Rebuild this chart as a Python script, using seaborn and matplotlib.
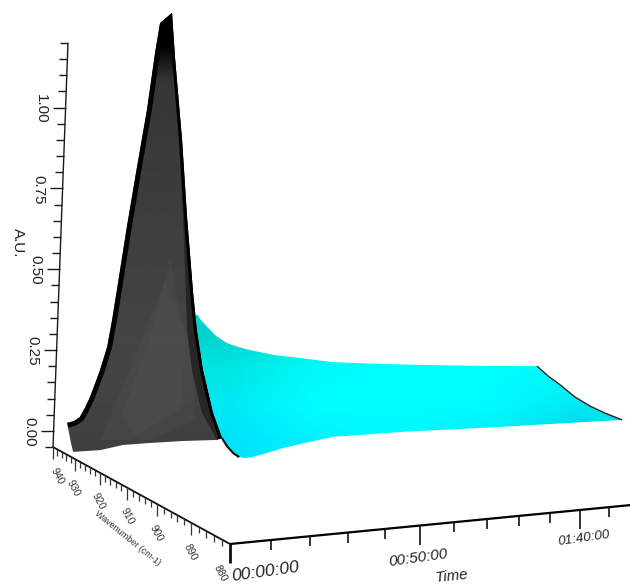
import numpy as np
import matplotlib
matplotlib.use('Agg')
import matplotlib.pyplot as plt
import matplotlib.colors as mcolors
from matplotlib.patches import Polygon
import seaborn as sns

# rising part of the band, ridge trace at 940 cm-1
rise_time = [4.1, 6.3, 8.1, 9.6, 11.1, 12.5, 14.0, 16.0, 17.3, 18.5, 21.0, 23.6, 26.2, 28.2, 29.5, 33.4]
rise_au = [0.023, 0.028, 0.04, 0.068, 0.102, 0.142, 0.186, 0.258, 0.344, 0.439, 0.64, 0.832, 1.017, 1.201, 1.299, 1.337]
# decay of the ridge after the maximum
decay_time = [41.9, 45.1, 47.0, 49.6, 52.9, 56.9, 60.9, 65.4, 74.7, 84.3, 97.3, 116.4, 136.4, 160.1, 187.1]
decay_au = [0.573, 0.377, 0.348, 0.322, 0.292, 0.268, 0.255, 0.244, 0.226, 0.215, 0.199, 0.19, 0.183, 0.176, 0.171]
# front edge at 930 cm-1
front_time = [-0.7, 7.4, 14.4, 22.9, 33.5, 44.8, 46.5]
front_au = [-0.028, -0.027, -0.015, -0.013, -0.012, -0.014, -0.009]
tail_time = [46.5, 48.3, 50.5, 52.6, 54.7, 57.1, 59.9, 62.3, 67.9, 74.0, 86.2, 112.1, 154.2, 211.8]
tail_au = [-0.009, -0.035, -0.058, -0.072, -0.076, -0.074, -0.069, -0.064, -0.051, -0.041, -0.023, -0.018, -0.018, -0.015]
# spectra across the band
first_time = 4.1
first_wave = [940.0, 938.9, 937.9, 936.9]
first_au = [0.023, -0.005, -0.032, -0.056]
peak_time = 33.4
peak_wave = [940.0, 938.2, 934.3, 931.4, 928.2, 926.4, 923.8, 919.9, 916.7]
peak_au = [1.337, 1.191, 0.921, 0.679, 0.447, 0.338, 0.223, 0.106, 0.043]
band_wave = [940.0, 938.6, 935.5, 932.9, 930.8, 929.9, 927.6, 923.6, 918.3, 916.7]
band_au = [1.337, 1.191, 0.922, 0.679, 0.444, 0.331, 0.213, 0.094, 0.032, 0.043]
end_time = 187.1
end_wave = [940.0, 936.8, 933.4, 929.4, 925.4, 921.6, 917.4]
end_au = [0.171, 0.141, 0.116, 0.082, 0.06, 0.046, 0.035]
# lighter folds on the underside, 935 cm-1
fold_time = [31.5, 25.9, 17.7, 22.1, 36.7, 37.5]
fold_au = [0.548, 0.29, 0.058, -0.006, 0.067, 0.29]
outer_fold_time = [30.1, 19.7, 11.0, 27.1, 41.9, 40.0]
outer_fold_au = [0.479, 0.197, -0.016, -0.023, 0.034, 0.258]

au_ticks = [round(-0.05 + 0.05 * i, 2) for i in range(26)]
au_labels = ['0.00', '0.25', '0.50', '0.75', '1.00']
wave_ticks = list(range(880, 942, 2))
wave_labels = [940, 930, 920, 910, 900, 890, 880]
time_ticks = list(range(0, 121, 10))
time_major = [0, 50, 100]
time_labels = ['00:00:00', '00:50:00', '01:40:00']


def project(t, w, a):
    """perspective of the instrument view: time, wavenumber, absorbance to the picture"""
    t = np.asarray(t, dtype=float)
    w = np.asarray(w, dtype=float) - 880
    a = np.asarray(a, dtype=float) + 0.05
    den = 1 + 0.001875 * t + 0.00653 * w
    px = (230 + 4.5875 * t - 2.604 * w + 16.7 * a) / den
    py = (544 + 0.616 * t + 1.303 * w - 449.9 * a) / den
    return px, py


def line(xs, ys, color='black', lw=1.0, clip=None):
    sns.lineplot(x=np.asarray(xs), y=np.asarray(ys), ax=ax, color=color, linewidth=lw,
                 sort=False, estimator=None, errorbar=None, legend=False)
    art = ax.lines[-1]
    art.set_solid_capstyle('butt')
    if clip is not None:
        art.set_clip_path(clip)
    return art


sns.set_theme(style='white')
plt.rcParams['font.family'] = ['Liberation Sans', 'DejaVu Sans']
fig = plt.figure(figsize=(6.3, 5.84), dpi=100)
ax = fig.add_axes([0, 0, 1, 1])
ax.set_axis_off()

ridge_up = project(rise_time, 940, rise_au)
ridge_down = project(decay_time, 940, decay_au)
front_up = project(front_time, 930, front_au)
front_tail = project(tail_time, 930, tail_au)
first_sp = project(first_time, first_wave, first_au)
peak_sp = project(peak_time, peak_wave, peak_au)
band_sp = project(peak_time, band_wave, band_au)
end_sp = project(end_time, end_wave, end_au)
fold = project(fold_time, 935, fold_au)
outer_fold = project(outer_fold_time, 935, outer_fold_au)

# cyan upper side, drawn first because the dark sheet folds over it
cyan_x = np.concatenate([ridge_down[0], end_sp[0][1:], front_tail[0][::-1][1:], peak_sp[0][3:][::-1][1:]])
cyan_y = np.concatenate([ridge_down[1], end_sp[1][1:], front_tail[1][::-1][1:], peak_sp[1][3:][::-1][1:]])
cyan_poly = Polygon(np.column_stack([cyan_x, cyan_y]), closed=True, fc='none', ec='none')
ax.add_patch(cyan_poly)
cyan_colors = [['#00d2cc', '#00ecea', '#00fbfb', '#00ffff', '#00ffff'],
               ['#00e6e2', '#00fafa', '#00ffff', '#00ffff', '#00fafc'],
               ['#00eaf6', '#00ffff', '#00ffff', '#00fcff', '#00e8f2'],
               ['#00e2fa', '#00f2ff', '#00f8ff', '#00ecf8', '#00cfe6']]
cyan_img = np.array([[mcolors.to_rgb(c) for c in row] for row in cyan_colors])
im = ax.imshow(cyan_img, extent=(185, 625, 460, 315), interpolation='bilinear', aspect='auto', zorder=1)
im.set_clip_path(cyan_poly)

line(end_sp[0], end_sp[1], color='#222222', lw=1.0).set_zorder(2)
line(front_tail[0][:4], front_tail[1][:4], color='#101010', lw=1.5).set_zorder(2)

# dark underside
dark_x = np.concatenate([ridge_up[0], peak_sp[0][1:], front_up[0][::-1][1:], first_sp[0][::-1][1:-1]])
dark_y = np.concatenate([ridge_up[1], peak_sp[1][1:], front_up[1][::-1][1:], first_sp[1][::-1][1:-1]])
dark_poly = Polygon(np.column_stack([dark_x, dark_y]), closed=True, fc='none', ec='none')
ax.add_patch(dark_poly)
grey_y = np.array([0, 45, 62, 80, 150, 250, 340, 420, 460])
grey_v = np.array([0.0, 0.0, 0.1, 0.21, 0.23, 0.25, 0.27, 0.26, 0.24])
rows = np.arange(0, 461)
shade = np.interp(rows, grey_y, grey_v)[:, None]
im2 = ax.imshow(shade, extent=(50, 240, 460, 0), cmap='gray', vmin=0, vmax=1, aspect='auto', zorder=3)
im2.set_clip_path(dark_poly)

outer_patch = ax.fill(outer_fold[0], outer_fold[1], color='#5a5a5a', alpha=0.2, lw=0, zorder=3.1)[0]
outer_patch.set_clip_path(dark_poly)
fold_patch = ax.fill(fold[0], fold[1], color='#5a5a5a', alpha=0.22, lw=0, zorder=3.2)[0]
fold_patch.set_clip_path(dark_poly)
band_patch = ax.fill(np.concatenate([peak_sp[0], band_sp[0][::-1]]), np.concatenate([peak_sp[1], band_sp[1][::-1]]),
                     color='#262626', lw=0, zorder=3.5)[0]
band_patch.set_clip_path(dark_poly)
ridge_line = line(ridge_up[0], ridge_up[1], color='black', lw=7.0, clip=dark_poly)
ridge_line.set_zorder(4)
edge = line(peak_sp[0], peak_sp[1], color='black', lw=4.4, clip=dark_poly)
edge.set_zorder(4.1)

# A.U. axis
au_x, au_y = project(0, 940, au_ticks)
line(au_x, au_y, color='#1a1a1a', lw=1.0)
for v, x, y in zip(au_ticks, au_x, au_y):
    is_major = f'{v:.2f}' in au_labels
    ax.hlines(y, x - (13 if is_major else 8), x, color='#1a1a1a', lw=1.0)
    if is_major:
        ax.text(x - 24.5, y + 1, f'{v:.2f}', rotation=-90, ha='center', va='center', fontsize=11, color='#222222')
ax.text(18, 243, 'A.U.', rotation=-90, ha='center', va='center', fontsize=11, color='#222222')

# wavenumber axis
wave_x, wave_y = project(0, wave_ticks, -0.05)
line(wave_x, wave_y, color='#111111', lw=1.3)
for v, x, y in zip(wave_ticks, wave_x, wave_y):
    ax.vlines(x, y, y + (12 if v % 10 == 0 else 6.5), color='#333333', lw=0.9)
wave_dx = [4, -2, -2, 0, -1, -1, -10]
for v, dx in zip(wave_labels, wave_dx):
    x, y = project(0, v, -0.05)
    ax.text(x + dx, y + 29, str(v), rotation=-62, ha='center', va='center', fontsize=7.5, color='#333333')
ax.text(128, 538, 'Wavenumber (cm-1)', rotation=-39, ha='center', va='center', fontsize=6.5, color='#333333')

# time axis
time_x, time_y = project(time_ticks, 880, -0.05)
line(time_x, time_y, color='black', lw=1.6)
for v, x, y in zip(time_ticks, time_x, time_y):
    ax.vlines(x, y, y + (19 if v in time_major else 10), color='#111111', lw=2.0 if v == 0 else 1.2)
time_offset = [(35, 28, 12.6), (-2, 32, 11), (4, 28, 9.6)]
for v, lab, (dx, dy, size) in zip(time_major, time_labels, time_offset):
    x, y = project(v, 880, -0.05)
    ax.text(x + dx, y + dy, lab, rotation=8, ha='center', va='center', fontsize=size,
            style='italic', color='#222222')
ax.text(452, 576, 'Time', rotation=6, ha='center', va='center', fontsize=10.8, style='italic', color='#222222')

ax.set_xlim(0, 630)
ax.set_ylim(584, 0)
fig.savefig('out.png', dpi=100)
